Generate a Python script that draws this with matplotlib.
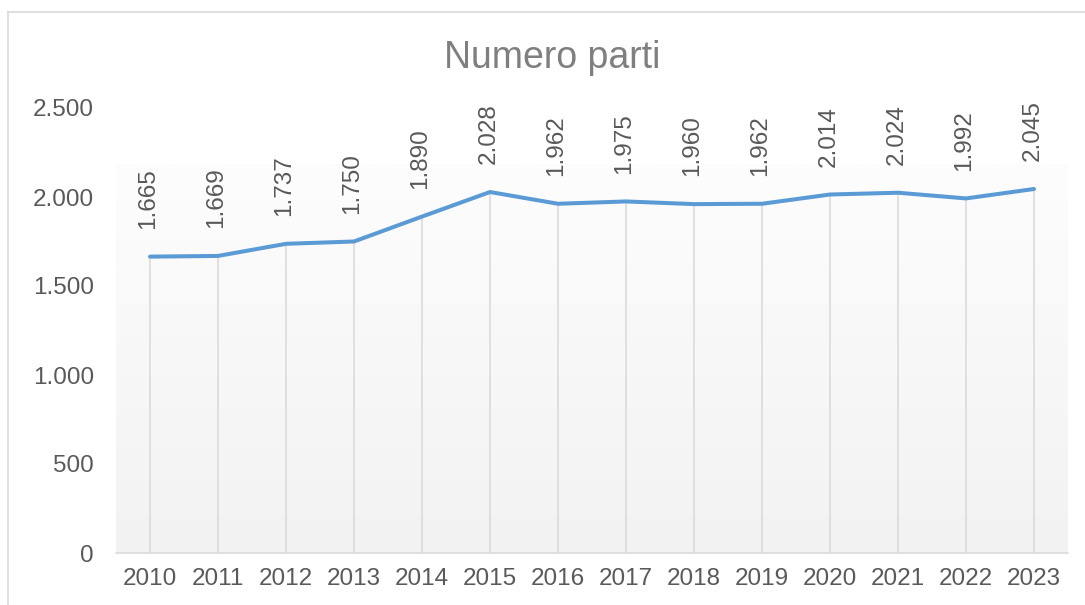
import numpy as np
import matplotlib
matplotlib.use('Agg')
import matplotlib.pyplot as plt
from matplotlib.ticker import FuncFormatter
from matplotlib.lines import Line2D
from matplotlib.colors import LinearSegmentedColormap

# --- Data ---
years = ['2010', '2011', '2012', '2013', '2014', '2015', '2016',
         '2017', '2018', '2019', '2020', '2021', '2022', '2023']
parties = [1665, 1669, 1737, 1750, 1890, 2028, 1962,
           1975, 1960, 1962, 2014, 2024, 1992, 2045]
y_ticks = [0, 500, 1000, 1500, 2000, 2500]

plt.rcParams['font.family'] = ['Liberation Sans', 'DejaVu Sans']

TEXT_COLOR = '#595959'
TITLE_COLOR = '#7f7f7f'
LINE_COLOR = '#5B9BD5'
GRID_COLOR = '#d9d9d9'


def it_thousands(v, pos=None):
    """Italian style thousands separator."""
    return f'{int(v):,}'.replace(',', '.')


fig = plt.figure(figsize=(10.85, 6.05), dpi=100)
ax = fig.add_axes([116 / 1085, 1 - 553 / 605, (1068 - 116) / 1085, (553 - 108) / 605])

x = np.arange(len(years))

# Gradient background of the plot area
grad = np.linspace(0, 1, 256).reshape(-1, 1)
cmap = LinearSegmentedColormap.from_list('bg', ['#f2f2f2', '#fdfdfd'])
ax.imshow(grad, cmap=cmap, origin='lower', aspect='auto',
          extent=(-0.5, len(years) - 0.5, 0, 2180), zorder=0)

# Drop lines
ax.vlines(x, 0, parties, color=GRID_COLOR, linewidth=1.1, zorder=1)

ax.plot(x, parties, color=LINE_COLOR, linewidth=2.9, solid_capstyle='round',
        solid_joinstyle='round', zorder=3)

# Data labels
for xi, v in zip(x, parties):
    ax.annotate(it_thousands(v), (xi, v), xytext=(-1, 20), textcoords='offset points',
                rotation=90, ha='center', va='bottom', fontsize=17.5,
                color=TEXT_COLOR, annotation_clip=False)

ax.set_xlim(-0.5, len(years) - 0.5)
ax.set_ylim(0, 2500)
ax.set_xticks(x)
ax.set_xticklabels(years)
ax.set_yticks(y_ticks)
ax.yaxis.set_major_formatter(FuncFormatter(it_thousands))
ax.tick_params(axis='both', length=0, labelsize=17.5, labelcolor=TEXT_COLOR)
ax.tick_params(axis='y', pad=16)
ax.tick_params(axis='x', pad=11)

for side in ['left', 'right', 'top']:
    ax.spines[side].set_visible(False)
ax.spines['bottom'].set_color(GRID_COLOR)
ax.spines['bottom'].set_linewidth(1.1)
ax.set_facecolor('white')

fig.text(552 / 1085, 1 - 68 / 605, 'Numero parti', ha='center', va='baseline',
         fontsize=27, color=TITLE_COLOR)

# Chart border (top and left edges visible)
fig.add_artist(Line2D([8 / 1085, 8 / 1085], [0, 1 - 12 / 605], transform=fig.transFigure,
                      color=GRID_COLOR, linewidth=1.2))
fig.add_artist(Line2D([8 / 1085, 1], [1 - 12 / 605, 1 - 12 / 605], transform=fig.transFigure,
                      color=GRID_COLOR, linewidth=1.2))

fig.savefig('out.png', dpi=100)
